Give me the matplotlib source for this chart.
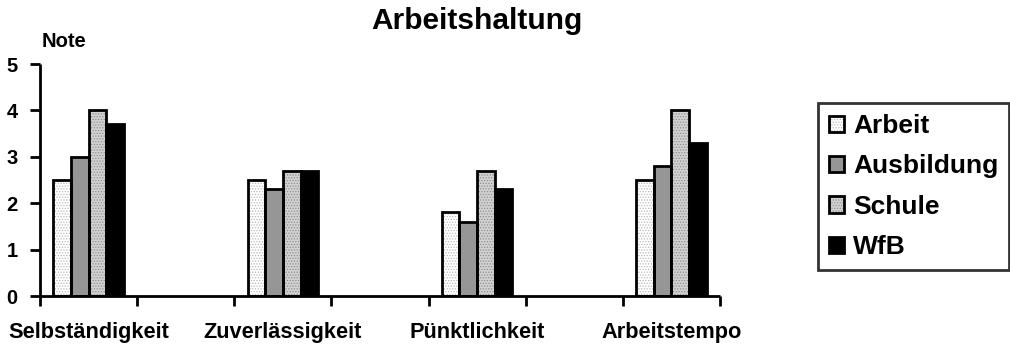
import numpy as np
import matplotlib
matplotlib.use("Agg")
import matplotlib.pyplot as plt
from matplotlib.legend_handler import HandlerTuple

plt.rcParams['font.family'] = ['Liberation Sans', 'DejaVu Sans']
plt.rcParams['font.weight'] = 'bold'
plt.rcParams['hatch.linewidth'] = 0.6

# empty slots between the categories keep the wide spacing of the axis
categories = ['Selbständigkeit', '', 'Zuverlässigkeit', '', 'Pünktlichkeit', '', 'Arbeitstempo']
series = ['Arbeit', 'Ausbildung', 'Schule', 'WfB']
arbeit = [2.5, np.nan, 2.5, np.nan, 1.8, np.nan, 2.5]
ausbildung = [3.0, np.nan, 2.3, np.nan, 1.6, np.nan, 2.8]
schule = [4.0, np.nan, 2.7, np.nan, 2.7, np.nan, 4.0]
wfb = [3.7, np.nan, 2.7, np.nan, 2.3, np.nan, 3.3]
values = [arbeit, ausbildung, schule, wfb]

faces = ['white', '#969696', '#d2d2d2', 'black']
hatches = ['......', None, '......', None]
hatch_colors = ['#b8b8b8', '#969696', '#8c8c8c', 'black']

fig = plt.figure(figsize=(10.1, 3.45), dpi=100)
ax = fig.add_axes([40 / 1010, 49 / 345, 680 / 1010, 232 / 345])

x = np.arange(len(categories))
width = 1 / 5.5
handles = []
for i, (name, vals) in enumerate(zip(series, values)):
    pos = x + (i - 1.5) * width
    fill = ax.bar(pos, vals, width, color=faces[i], edgecolor=hatch_colors[i],
                  hatch=hatches[i], linewidth=0, label=name, zorder=2)
    edge = ax.bar(pos, vals, width, fill=False, edgecolor='black',
                  linewidth=2, zorder=3)
    handles.append((fill.patches[0], edge.patches[0]))

ax.set_xlim(-0.5, len(categories) - 0.5)
ax.set_ylim(0, 5)
ax.spines[['top', 'right']].set_visible(False)
for s in ['left', 'bottom']:
    ax.spines[s].set_linewidth(2)
    ax.spines[s].set_capstyle('butt')

ax.set_yticks(range(6))
ax.tick_params(axis='y', length=7, width=2, pad=9, labelsize=14.5)

# tick marks sit between slots, labels in the middle of each slot
ax.set_xticks(np.arange(len(categories) + 1) - 0.5)
ax.set_xticklabels([])
ax.set_xticks(x, categories, minor=True)
ax.tick_params(axis='x', which='major', length=7, width=2)
ax.tick_params(axis='x', which='minor', length=0, pad=19, labelsize=15.7)
for lbl in ax.get_xticklabels(minor=True) + ax.get_yticklabels():
    lbl.set_fontweight('bold')

fig.text(477 / 1010, 1 - 29 / 345, 'Arbeitshaltung', ha='center', va='baseline',
         fontsize=21.5, fontweight='bold')
fig.text(42 / 1010, 1 - 47 / 345, 'Note', ha='left', va='baseline',
         fontsize=14.5, fontweight='bold')

leg = fig.legend(handles, series, handler_map={tuple: HandlerTuple(ndivide=1)},
                 loc='upper left', bbox_to_anchor=(818 / 1010, 1 - 103 / 345),
                 borderaxespad=0, fancybox=False, frameon=True,
                 prop={'size': 19, 'weight': 'bold'},
                 handlelength=0.58, handleheight=0.58, handletextpad=0.33,
                 labelspacing=0.62, borderpad=0.42)
leg.get_frame().set_edgecolor('black')
leg.get_frame().set_linewidth(2)

fig.savefig('out.png', dpi=100)
